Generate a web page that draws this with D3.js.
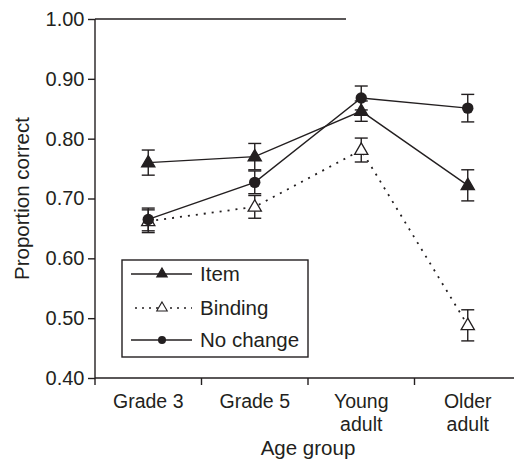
<!DOCTYPE html>
<html>
<head>
<meta charset="utf-8">
<script src="https://cdn.jsdelivr.net/npm/d3@7"></script>
<style>
  html, body { margin: 0; padding: 0; background: #fff; }
  svg { display: block; font-family: "Liberation Sans", Arial, Helvetica, sans-serif; }
</style>
</head>
<body>
<svg id="chart" width="514" height="461"></svg>
<script>
// Age groups along the x axis (two-line labels split on "|")
const categories = ["Grade 3", "Grade 5", "Young|adult", "Older|adult"];

// Mean proportion correct per age group, with standard errors
const itemValues     = [0.760, 0.770, 0.846, 0.722];
const itemErrors     = [0.021, 0.022, 0.017, 0.026];
const bindingValues  = [0.662, 0.686, 0.781, 0.488];
const bindingErrors  = [0.019, 0.019, 0.020, 0.026];
const noChangeValues = [0.665, 0.727, 0.868, 0.851];
const noChangeErrors = [0.019, 0.019, 0.020, 0.023];

const yTicks = [0.40, 0.50, 0.60, 0.70, 0.80, 0.90, 1.00];

const series = [
  { name: "Item",      values: itemValues,     errors: itemErrors,     marker: "triFilled", dashed: false },
  { name: "Binding",   values: bindingValues,  errors: bindingErrors,  marker: "triOpen",   dashed: true  },
  { name: "No change", values: noChangeValues, errors: noChangeErrors, marker: "circle",    dashed: false }
];

const svg = d3.select("#chart");
const ink = "#231f20";

const plotLeft = 95, plotTop = 19, plotBottom = 378, plotRight = 521;

const x = d3.scaleBand().domain(categories).range([plotLeft, plotRight]);
const y = d3.scaleLinear().domain([0.40, 1.00]).range([plotBottom, plotTop]);

// Y axis
const yAxis = svg.append("g")
  .attr("transform", `translate(${plotLeft},0)`)
  .call(d3.axisLeft(y).tickValues(yTicks).tickFormat(d3.format(".2f")).tickSize(7).tickPadding(3.5));
yAxis.select(".domain").attr("stroke", ink).attr("stroke-width", 1.4).attr("d", `M0,${plotTop}V${plotBottom}`);
yAxis.selectAll(".tick line").attr("stroke", ink).attr("stroke-width", 1.4);
yAxis.selectAll(".tick text").attr("fill", ink).style("font-size", "20px").style("font-family", "Liberation Sans, Arial, sans-serif");

// Top frame line
svg.append("line")
  .attr("x1", plotLeft).attr("x2", 346)
  .attr("y1", plotTop).attr("y2", plotTop)
  .attr("stroke", ink).attr("stroke-width", 1.4);

// X axis: ticks at the boundaries between groups
const boundaries = categories.map(c => x(c));
const xAxisG = svg.append("g");
xAxisG.append("line")
  .attr("x1", plotLeft).attr("x2", plotRight)
  .attr("y1", plotBottom).attr("y2", plotBottom)
  .attr("stroke", ink).attr("stroke-width", 1.4);
xAxisG.selectAll("line.tick").data(boundaries).join("line")
  .attr("class", "tick")
  .attr("x1", d => d).attr("x2", d => d)
  .attr("y1", plotBottom).attr("y2", plotBottom + 7)
  .attr("stroke", ink).attr("stroke-width", 1.4);

// Category labels
const catLabels = xAxisG.selectAll("text.cat").data(categories).join("text")
  .attr("class", "cat")
  .attr("x", d => x(d) + x.bandwidth() / 2)
  .attr("y", 408)
  .attr("text-anchor", "middle")
  .attr("fill", ink)
  .style("font-size", "19.5px");
catLabels.each(function(d) {
  const parts = d.split("|");
  const t = d3.select(this);
  parts.forEach((p, i) => {
    t.append("tspan")
      .attr("x", x(d) + x.bandwidth() / 2)
      .attr("dy", i === 0 ? 0 : 23)
      .text(p);
  });
});

// Axis titles
svg.append("text")
  .attr("x", (plotLeft + plotRight) / 2).attr("y", 455)
  .attr("text-anchor", "middle").attr("fill", ink)
  .style("font-size", "20.5px")
  .text("Age group");

svg.append("text")
  .attr("transform", `translate(29,${(plotTop + plotBottom) / 2}) rotate(-90)`)
  .attr("text-anchor", "middle").attr("fill", ink)
  .style("font-size", "20.5px")
  .text("Proportion correct");

// Marker shapes
const triPath = d3.symbol().type(d3.symbolTriangle).size(76)();
function drawMarker(sel, type) {
  if (type === "circle") {
    sel.append("circle").attr("r", 5.7).attr("fill", ink);
  } else {
    sel.append("path").attr("d", triPath)
      .attr("transform", "translate(0,0.5)")
      .attr("fill", type === "triFilled" ? ink : "#fff")
      .attr("stroke", ink).attr("stroke-width", 1.3);
  }
}

const cx = c => x(c) + x.bandwidth() / 2;
const line = d3.line().x(d => cx(d.c)).y(d => y(d.v));

// Connecting lines
series.forEach(s => {
  const pts = categories.map((c, i) => ({ c, v: s.values[i] }));
  svg.append("path")
    .attr("d", line(pts))
    .attr("fill", "none")
    .attr("stroke", ink)
    .attr("stroke-width", s.dashed ? 1.8 : 1.4)
    .attr("stroke-dasharray", s.dashed ? "2,6" : null);
});

// Error bars
const capHalf = 6.5;
series.forEach(s => {
  categories.forEach((c, i) => {
    const v = s.values[i], e = s.errors[i];
    const g = svg.append("g").attr("stroke", ink).attr("stroke-width", 1.4);
    g.append("line").attr("x1", cx(c)).attr("x2", cx(c)).attr("y1", y(v + e)).attr("y2", y(v - e));
    g.append("line").attr("x1", cx(c) - capHalf).attr("x2", cx(c) + capHalf).attr("y1", y(v + e)).attr("y2", y(v + e));
    g.append("line").attr("x1", cx(c) - capHalf).attr("x2", cx(c) + capHalf).attr("y1", y(v - e)).attr("y2", y(v - e));
  });
});

// Markers
series.forEach(s => {
  categories.forEach((c, i) => {
    const g = svg.append("g").attr("transform", `translate(${cx(c)},${y(s.values[i])})`);
    drawMarker(g, s.marker);
  });
});

// Legend
const lg = svg.append("g");
lg.append("rect")
  .attr("x", 122).attr("y", 260).attr("width", 186).attr("height", 97)
  .attr("fill", "#fff").attr("stroke", ink).attr("stroke-width", 1.4);
const legendRows = [274, 308, 340];
series.forEach((s, i) => {
  const ly = legendRows[i];
  lg.append("line")
    .attr("x1", s.dashed ? 135 : 131).attr("x2", 192)
    .attr("y1", ly).attr("y2", ly)
    .attr("stroke", ink)
    .attr("stroke-width", s.dashed ? 1.6 : 1.4)
    .attr("stroke-dasharray", s.dashed ? "2,5" : null);
  const m = lg.append("g").attr("transform", `translate(162,${ly})`);
  if (s.marker === "circle") {
    m.append("circle").attr("r", 4).attr("fill", ink);
  } else {
    m.append("path").attr("d", d3.symbol().type(d3.symbolTriangle).size(48)())
      .attr("fill", s.marker === "triFilled" ? ink : "#fff")
      .attr("stroke", ink).attr("stroke-width", 1.1);
  }
  lg.append("text")
    .attr("x", 200).attr("y", ly)
    .attr("dy", "0.35em")
    .attr("fill", ink)
    .style("font-size", "20.5px")
    .text(s.name);
});
</script>
</body>
</html>
